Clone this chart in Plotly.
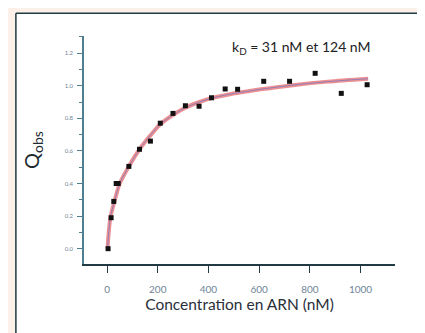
import plotly.graph_objects as go

# measured data points
conc = [4, 16, 26.5, 36, 44, 86, 128, 171, 210, 260, 309, 363, 412, 466, 515, 618, 720, 821, 924, 1026]
qobs = [0.0, 0.19, 0.29, 0.40, 0.40, 0.505, 0.61, 0.66, 0.77, 0.83, 0.877, 0.874, 0.926, 0.98, 0.978, 1.027, 1.027, 1.076, 0.953, 1.006]

# fitted curve
fit_x = [2, 5, 13, 29, 50, 86, 128, 171, 211, 264, 309, 365, 416, 475, 530, 606, 741, 871, 1030]
fit_y = [0.0, 0.07, 0.19, 0.29, 0.40, 0.505, 0.61, 0.695, 0.765, 0.825, 0.865, 0.900, 0.925, 0.945, 0.960, 0.978, 1.005, 1.025, 1.043]

x_ticks = [0, 200, 400, 600, 800, 1000]
y_ticks = [0.0, 0.2, 0.4, 0.6, 0.8, 1.0, 1.2]

axis_col = "#4f7f8f"
lab_col = "#6f8596"

fig = go.Figure()
fig.add_trace(go.Scatter(x=fit_x, y=fit_y, mode="lines", line=dict(color="rgba(225,70,75,0.6)", width=4, shape="spline", smoothing=0.8), hoverinfo="skip"))
fig.add_trace(go.Scatter(x=fit_x, y=fit_y, mode="lines", line=dict(color="rgba(110,120,190,0.7)", width=1, shape="spline", smoothing=0.8), hoverinfo="skip"))
fig.add_trace(go.Scatter(x=conc, y=qobs, mode="markers", marker=dict(symbol="square", size=5, color="#111111")))

fig.update_layout(
    width=425, height=333,
    margin=dict(l=76, r=38, t=28, b=77),
    paper_bgcolor="#fdf0e8",
    plot_bgcolor="white",
    showlegend=False,
    font=dict(family="Lato, Open Sans, sans-serif"),
    xaxis=dict(range=[-91, 1136], tickvals=x_ticks, ticks="outside", ticklen=7, tickcolor="#223a44",
               showline=True, linecolor="#223a44", linewidth=1.5, showgrid=False, zeroline=False,
               tickfont=dict(size=10, color=lab_col), ticklabelstandoff=8,
               title=dict(text="Concentration en ARN (nM)", font=dict(size=15.5, color="#2a2f3a"), standoff=5)),
    yaxis=dict(range=[-0.094, 1.305], tickvals=y_ticks, tickformat=".1f", ticks="outside", ticklen=5, tickcolor=axis_col,
               showline=True, linecolor=axis_col, linewidth=1.5, showgrid=False, zeroline=False,
               tickfont=dict(size=6, color=lab_col), ticklabelstandoff=3,
               minor=dict(dtick=0.1, ticks="outside", ticklen=3, tickcolor=axis_col),
               title=dict(text="Q<sub>obs</sub>", font=dict(size=20, color="#1e2a30"), standoff=20)),
    shapes=[
        dict(type="rect", xref="paper", yref="paper", x0=-0.219, x1=1.11, y0=-0.31, y1=1.1, layer="below",
             fillcolor="white", line=dict(width=0)),
        dict(type="line", xref="paper", yref="paper", x0=-0.219, x1=-0.219, y0=-0.31, y1=1.1,
             line=dict(color="#1f3a40", width=1.5)),
        dict(type="line", xref="paper", yref="paper", x0=-0.219, x1=1.11, y0=1.1, y1=1.1,
             line=dict(color="#1f3a40", width=1.5)),
    ],
    annotations=[
        dict(text="k<sub>D</sub> = 31 nM et 124 nM", xref="paper", yref="paper", x=0.70, y=0.95,
             showarrow=False, font=dict(size=14, color="#222222"), xanchor="center", yanchor="middle"),
    ],
)

fig.write_html("out.html")
